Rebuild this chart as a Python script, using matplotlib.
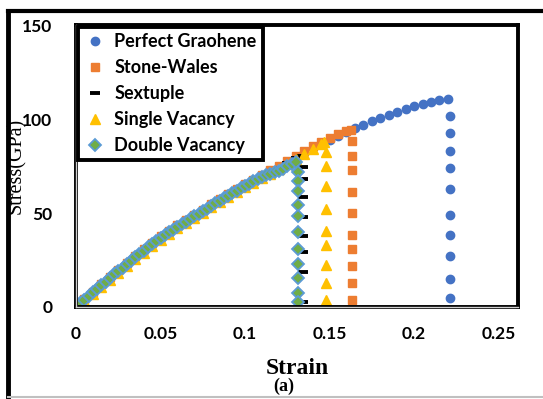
import matplotlib
matplotlib.use('Agg')
import matplotlib.pyplot as plt
from matplotlib.lines import Line2D

# Perfect graphene
strain_pg = [0, .005, .01, .015, .02, .025, .03, .035, .04, .045, .05, .055, .06, .065, .07,
             .075, .08, .085, .09, .095, .1, .105, .11, .115, .12, .125, .13, .135, .14, .145,
             .15, .155, .16, .165, .17, .175, .18, .185, .19, .195, .2, .205, .21, .215, .22,
             .2215, .2215, .2215, .2215, .2215, .2215, .2215, .2215, .2215, .2215]
stress_pg = [0, 3.9, 7.8, 11.6, 15.4, 19.1, 22.8, 26.4, 30.0, 33.5, 36.9, 39.8, 42.6, 45.4, 48.2,
             51.0, 53.8, 56.5, 59.2, 61.9, 64.5, 67.0, 69.4, 71.8, 74.4, 77.0, 79.6, 82.2, 84.8, 87.0,
             89.1, 91.1, 93.1, 95.1, 97.0, 98.9, 100.7, 102.4, 104.0, 105.6, 106.8, 107.9, 109.0, 110.0, 110.8,
             101.6, 92.8, 83.0, 74.2, 63.0, 49.1, 38.4, 27.4, 14.8, 4.6]

# Stone-Wales
strain_sw = [0, .005, .01, .015, .02, .025, .03, .035, .04, .045, .05, .055, .06, .065, .07,
             .075, .08, .085, .09, .095, .1, .105, .11, .115, .12, .125, .13, .135, .14, .145,
             .15, .155, .16, .1625,
             .1635, .1635, .1635, .1635, .1635, .1635, .1635, .1635, .1635, .1635]
stress_sw = [0, 4.2, 8.2, 12.1, 16.0, 19.8, 23.5, 27.1, 30.7, 34.2, 37.6, 40.6, 43.4, 46.2, 49.0,
             51.8, 54.6, 57.3, 60.0, 62.7, 65.3, 67.8, 70.3, 72.7, 75.2, 77.8, 80.4, 83.0, 85.5, 87.7,
             89.8, 91.8, 93.4, 94.2,
             88.6, 80.2, 73.0, 61.0, 49.8, 38.3, 31.1, 21.9, 12.7, 3.6]

# Sextuple
strain_sx = [0, .005, .01, .015, .02, .025, .03, .035, .04, .045, .05, .055, .06, .065, .07,
             .075, .08, .085, .09, .095, .1, .105, .11, .115, .12, .125, .13, .133,
             .1345, .1345, .1345, .1345, .1345, .1345, .1345, .1345, .1345]
stress_sx = [0, 3.8, 7.6, 11.4, 15.2, 18.9, 22.6, 26.2, 29.8, 33.3, 36.7, 39.6, 42.4, 45.2, 48.0,
             50.8, 53.6, 56.3, 59.0, 61.7, 64.3, 66.8, 69.2, 71.6, 74.1, 76.6, 79.2, 80.4,
             79.2, 74.4, 68.0, 58.4, 47.7, 37.6, 29.0, 18.4, 2.9]

# Single vacancy
strain_sv = [0, .005, .01, .015, .02, .025, .03, .035, .04, .045, .05, .055, .06, .065, .07,
             .075, .08, .085, .09, .095, .1, .105, .11, .115, .12, .125, .13, .135, .14, .145, .147,
             .148, .148, .148, .148, .148, .148, .148, .148, .148]
stress_sv = [0, 3.3, 7.0, 10.7, 14.4, 18.1, 21.7, 25.3, 28.9, 32.4, 35.8, 38.9, 41.8, 44.6, 47.4,
             50.2, 53.0, 55.7, 58.4, 61.1, 63.7, 66.2, 68.6, 71.0, 73.4, 75.9, 78.5, 81.3, 84.0, 86.5, 87.7,
             82.4, 75.3, 64.6, 52.2, 40.6, 33.1, 22.4, 13.0, 3.6]

# Double vacancy
strain_dv = [0, .0025, .005, .0075, .01, .0125, .015, .0175, .02, .0225, .025, .0275, .03, .0325,
             .035, .0375, .04, .0425, .045, .0475, .05, .0525, .055, .0575, .06, .0625, .065, .0675,
             .07, .0725, .075, .0775, .08, .0825, .085, .0875, .09, .0925, .095, .0975, .1, .1025,
             .105, .1075, .11, .1125, .115, .1175, .12, .1225, .125, .1275, .13,
             .1315, .1315, .1315, .1315, .1315, .1315, .1315, .1315, .1315, .1315, .1315]
stress_dv = [0, 1.9, 3.9, 5.8, 7.8, 9.7, 11.6, 13.5, 15.4, 17.3, 19.1, 21.0, 22.8, 24.6,
             26.4, 28.2, 30.0, 31.8, 33.5, 35.2, 36.9, 38.3, 39.8, 41.2, 42.6, 44.0, 45.4, 46.8,
             48.2, 49.6, 51.0, 52.4, 53.8, 55.1, 56.5, 57.8, 59.2, 60.5, 61.9, 63.2, 64.5, 65.7,
             67.0, 68.2, 69.4, 70.2, 71.0, 71.6, 72.5, 73.6, 74.8, 76.0, 77.2,
             71.7, 66.9, 61.9, 54.5, 48.6, 39.7, 30.8, 22.8, 15.6, 7.6, 2.8]

x_ticks = [0, 0.05, 0.1, 0.15, 0.2, 0.25]
x_tick_labels = ['0', '0.05', '0.1', '0.15', '0.2', '0.25']
y_ticks = [0, 50, 100, 150]

sans = ['Lato', 'DejaVu Sans']
serif = ['Liberation Serif', 'DejaVu Serif']

fig = plt.figure(figsize=(5.43, 3.99), dpi=100)
ax = fig.add_axes([0.14, 0.2306, 0.814, 0.7064])

ax.plot(strain_pg, stress_pg, linestyle='none', marker='o', ms=6, color='#4472C4',
        mec='#4472C4', label='Perfect Graohene')
ax.plot(strain_sw, stress_sw, linestyle='none', marker='s', ms=6.2, color='#ED7D31',
        mec='#ED7D31', label='Stone-Wales')
ax.plot(strain_sx, stress_sx, linestyle='none', marker='_', ms=6.5, mew=2.8, color='black',
        label='Sextuple')
ax.plot(strain_sv, stress_sv, linestyle='none', marker='^', ms=7, color='#FFC000',
        mec='#FFC000', label='Single Vacancy')
ax.plot(strain_dv, stress_dv, linestyle='none', marker='D', ms=5.8, color='#70AD47',
        mec='#5B9BD5', mew=1.3, label='Double Vacancy')

ax.set_xlim(0, 0.2615)
ax.set_ylim(0, 150)
ax.set_xticks(x_ticks)
ax.set_xticklabels(x_tick_labels)
ax.set_yticks(y_ticks)
ax.tick_params(length=0, labelsize=12.5)
ax.tick_params(axis='x', pad=14)
ax.tick_params(axis='y', pad=17)
for lab in ax.get_xticklabels() + ax.get_yticklabels():
    lab.set_family(sans)
    lab.set_fontweight('bold')

for side in ['top', 'right', 'left', 'bottom']:
    ax.spines[side].set_linewidth(2.8)
    ax.spines[side].set_color('black')
# lighter inner stripe on the left and bottom frame lines
ax.add_line(Line2D([0, 0], [0, 1], transform=ax.transAxes, color='#d0d0d0', lw=1.0,
                   clip_on=False, zorder=3))
ax.add_line(Line2D([0, 1], [0, 0], transform=ax.transAxes, color='#d0d0d0', lw=1.0,
                   clip_on=False, zorder=3))

ax.set_xlabel('Strain', family=serif, fontsize=17, fontweight='bold', labelpad=11)
fig.text(0.522, 0.01, '(a)', family=serif, fontsize=13, fontweight='bold',
         ha='center', va='bottom')
fig.text(0.03, 0.585, 'Stress(GPa)', family=serif, fontsize=14.5, rotation=90,
         ha='center', va='center')

leg = ax.legend(loc='upper left', bbox_to_anchor=(0.005, 0.995), borderaxespad=0,
                fancybox=False, edgecolor='black', framealpha=1, handlelength=1.2,
                handletextpad=0.45, labelspacing=0.5, borderpad=0.35, markerscale=1.0,
                prop={'family': sans, 'weight': 'bold', 'size': 13})
leg.get_frame().set_linewidth(2.8)

# outer chart border
fig.add_artist(Line2D([0.015, 1.0], [0.972, 0.972], color='black', lw=3))
fig.add_artist(Line2D([0.015, 0.015], [0.972, 0.0], color='black', lw=3.5))
fig.add_artist(Line2D([0.015, 1.0], [0.005, 0.005], color='#c0c0c0', lw=1.5))

fig.savefig('out.png', dpi=100)
